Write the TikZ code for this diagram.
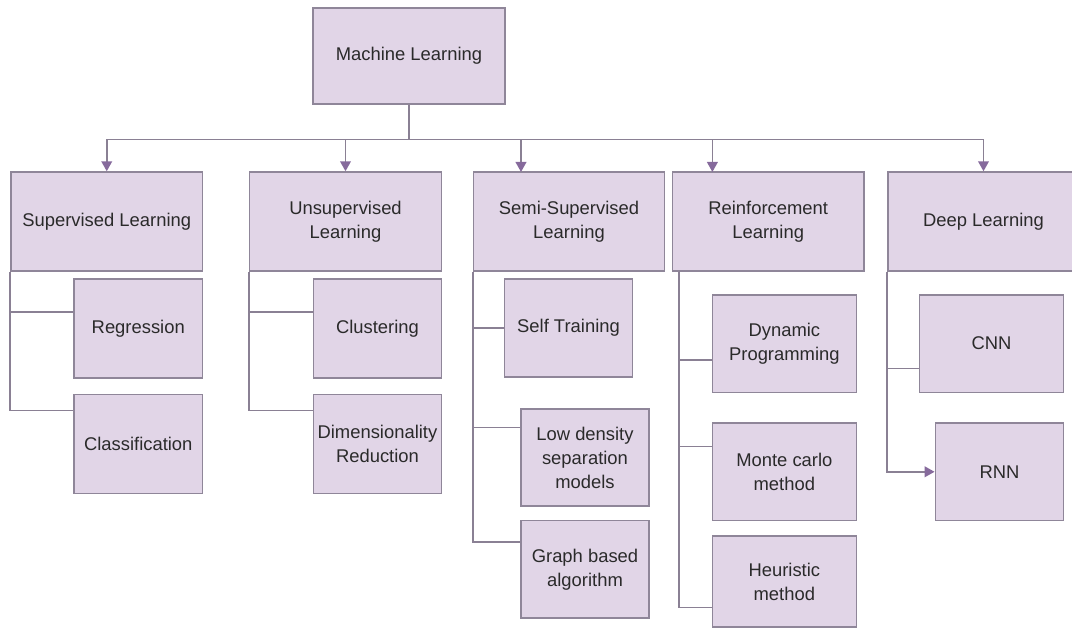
\documentclass[tikz,border=0pt]{standalone}
\usepackage{fontspec}
\setmainfont{Liberation Sans}
\usetikzlibrary{arrows.meta, positioning}

\definecolor{boxfill}{HTML}{E1D5E7}
\definecolor{boxline}{HTML}{8F8699}
\definecolor{linecol}{HTML}{8A8094}
\definecolor{tipcol}{HTML}{866A9C}
\definecolor{txt}{HTML}{2A2A2A}

\tikzset{
    box/.style={draw=boxline, fill=boxfill, line width=1.1pt, text=txt, align=center,
        inner sep=0pt, font=\fontsize{13.8}{18}\selectfont},
    conn/.style={draw=linecol, line width=1.3pt},
    arr/.style={conn, arrows={-Triangle[length=7.5pt, width=8pt, color=tipcol]}},
}

\begin{document}
\begin{tikzpicture}[x=0.75pt, y=-0.75pt]
    \useasboundingbox (0,0) rectangle (1072,630);

    % Nodes
    \node[box, minimum width=144pt, minimum height=72pt] (ml) at (409,56) {Machine Learning};

    \node[box, minimum width=143.6pt, minimum height=74.25pt] (sup) at (106.75,221.5) {Supervised Learning};
    \node[box, minimum width=144pt, minimum height=74.25pt] (uns) at (345.5,221.5) {Unsupervised\\Learning};
    \node[box, minimum width=143.25pt, minimum height=74.25pt] (semi) at (569,221.5) {Semi-Supervised\\Learning};
    \node[box, minimum width=143.8pt, minimum height=74.25pt] (rein) at (768.2,221.5) {Reinforcement\\Learning};
    \node[box, minimum width=143.25pt, minimum height=74.25pt] (deep) at (983.5,221.5) {Deep Learning};

    \node[box, minimum width=96.4pt, minimum height=74.25pt] (reg) at (138.25,328.5) {Regression};
    \node[box, minimum width=96.4pt, minimum height=74.4pt] (cls) at (138.25,443.9) {Classification};

    \node[box, minimum width=96pt, minimum height=74.25pt] (clu) at (377.45,328.5) {Clustering};
    \node[box, minimum width=96pt, minimum height=74.4pt] (dim) at (377.45,443.9) {Dimensionality\\Reduction};

    \node[box, minimum width=96pt, minimum height=73.5pt] (self) at (568.5,328) {Self Training};
    \node[box, minimum width=96pt, minimum height=72.75pt] (low) at (585,457.5) {Low density\\separation\\models};
    \node[box, minimum width=96pt, minimum height=73pt] (graph) at (585,569.3) {Graph based\\algorithm};

    \node[box, minimum width=108pt, minimum height=73pt] (dyn) at (784.35,343.65) {Dynamic\\Programming};
    \node[box, minimum width=108pt, minimum height=73.2pt] (mc) at (784.35,471.8) {Monte carlo\\method};
    \node[box, minimum width=108pt, minimum height=68.25pt] (heu) at (784.35,581.5) {Heuristic\\method};

    \node[box, minimum width=108.2pt, minimum height=73pt] (cnn) at (991.5,343.65) {CNN};
    \node[box, minimum width=96.2pt, minimum height=73.2pt] (rnn) at (999.45,471.8) {RNN};

    \coordinate (bus) at (409,139.5);
    \coordinate (semi in) at (521,172);
    \coordinate (rein in) at (712.4,172);

    % Connections
    \draw[conn] (ml.south) -- (bus);
    \draw[arr] (bus) -| (sup.north);
    \draw[arr] (bus) -| (uns.north);
    \draw[arr] (bus) -| (semi in);
    \draw[arr] (bus) -| (rein in);
    \draw[arr] (bus) -| (deep.north);

    \draw[conn] (sup.south west) |- ([yshift=12.2pt]reg.west);
    \draw[conn] (sup.south west) |- ([yshift=25pt]cls.west);

    \draw[conn] (uns.south west) |- ([yshift=12.2pt]clu.west);
    \draw[conn] (uns.south west) |- ([yshift=25pt]dim.west);

    \draw[conn] (semi.south west) |- (self.west);
    \draw[conn] (semi.south west) |- ([yshift=22.4pt]low.west);
    \draw[conn] (semi.south west) |- ([yshift=20.2pt]graph.west);

    \draw[conn] (rein.south west) ++(7.7,0) |- ([yshift=-12.3pt]dyn.west);
    \draw[conn] (rein.south west) ++(7.7,0) |- ([yshift=18.9pt]mc.west);
    \draw[conn] (rein.south west) ++(7.7,0) |- ([yshift=-19.5pt]heu.west);

    \draw[conn] (deep.south west) |- ([yshift=-18.7pt]cnn.west);
    \draw[arr] (deep.south west) |- (rnn.west);
\end{tikzpicture}
\end{document}
